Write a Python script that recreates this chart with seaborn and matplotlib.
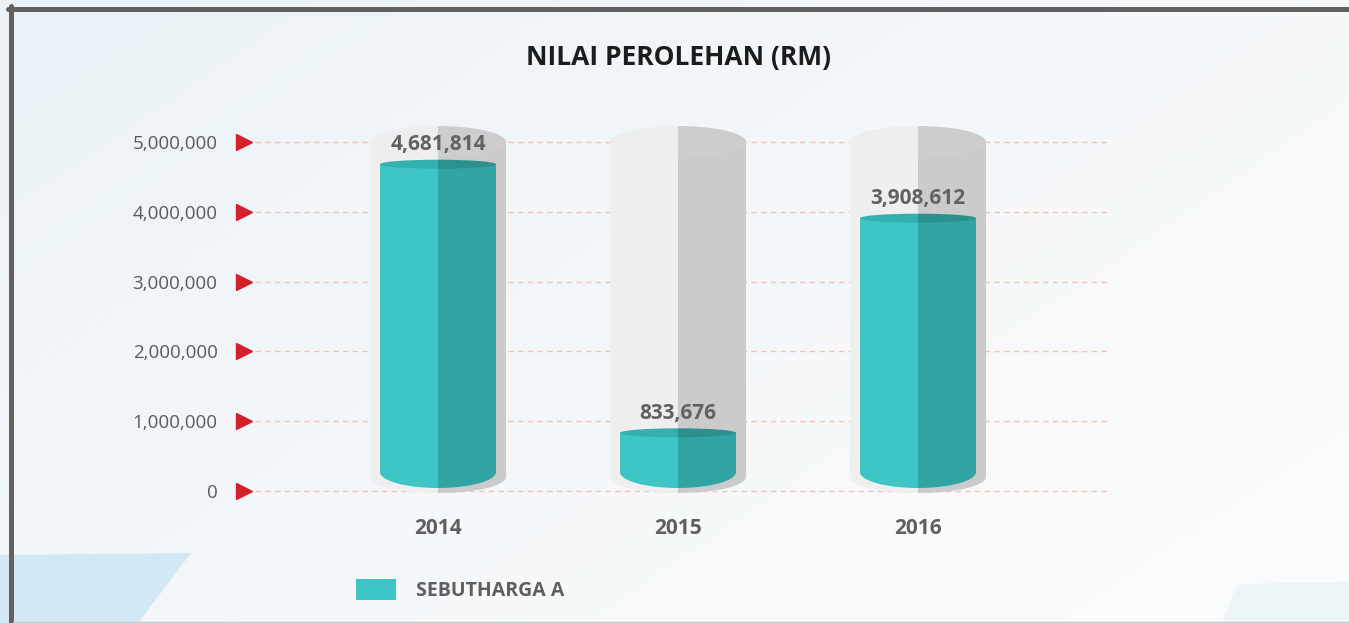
import numpy as np
import matplotlib
matplotlib.use("Agg")
import matplotlib.pyplot as plt
import matplotlib.patches as mpatches
from matplotlib.lines import Line2D
from matplotlib.transforms import blended_transform_factory
import seaborn as sns

# data
years = ["2014", "2015", "2016"]
values = [4681814, 833676, 3908612]
track_max = 5000000
y_ticks = [0, 1000000, 2000000, 3000000, 4000000, 5000000]
series_name = "SEBUTHARGA A"
title = "NILAI PEROLEHAN (RM)"

W, H = 1349, 623
PX_PER_M = 69.8  # pixels per 1,000,000 on the value axis

sns.set_theme(style="white")
plt.rcParams["font.family"] = ["Open Sans", "DejaVu Sans"]

fig = plt.figure(figsize=(W / 100, H / 100), dpi=100)
fig.patch.set_facecolor("#f4f7fa")

# soft background gradient + decorative shapes
bg = fig.add_axes([0, 0, 1, 1], zorder=-10)
gx = np.linspace(0, 1, 200)
gy = np.linspace(0, 1, 100)
GX, GY = np.meshgrid(gx, gy)
grad = 0.6 * GX + 0.4 * GY
bg.imshow(grad, cmap=matplotlib.colors.LinearSegmentedColormap.from_list(
    "bgc", ["#eaf2f7", "#f5f8fa", "#fbfcfd"]), aspect="auto",
    extent=[0, 1, 0, 1], origin="upper")
bg.set_xlim(0, 1)
bg.set_ylim(0, 1)
bg.axis("off")


def fpt(px, py):
    return (px / W, 1 - py / H)


bg.add_patch(mpatches.Polygon([fpt(0, 555), fpt(191, 553), fpt(138, 623), fpt(0, 623)],
                              closed=True, color="#d2e9f5", lw=0))
bg.add_patch(mpatches.Polygon([fpt(1237, 584), fpt(1349, 582), fpt(1349, 623), fpt(1222, 623)],
                              closed=True, color="#edf5f9", lw=0))

# main axes (pixel box 255..1110 x 100..505)
ax = fig.add_axes([255 / W, (H - 505) / H, 855 / W, 405 / H])
ax.set_facecolor("none")


def py(p):
    # pixel height -> value units
    return p * 1e6 / PX_PER_M


# gray tracks and teal bars via seaborn
sns.barplot(x=years, y=[track_max] * len(years), width=136 / 240, color="#efefef", ax=ax)
n_track = len(ax.patches)
sns.barplot(x=years, y=values, width=116 / 240, color="#3ec5c5", ax=ax)
tracks = ax.patches[:n_track]
bars = ax.patches[n_track:]


def halves(patch_list, x0, w, color_l, color_r):
    for p, cx, c in zip(patch_list, (x0, x0 + w / 2), (color_l, color_r)):
        p.set_facecolor(c)
        ax.add_patch(p)
        clip = mpatches.Rectangle((cx, -1e8), w / 2, 2e8, transform=ax.transData)
        p.set_clip_path(clip)


def cylinder(bar, lift, bot_semi, top_semi, body, cap, z):
    x0, w = bar.get_x(), bar.get_width()
    top = bar.get_y() + bar.get_height()
    yb = py(lift)
    bar.set_y(yb)
    bar.set_height(top - yb)
    bar.set_facecolor(body[0])
    bar.set_edgecolor("none")
    bar.set_zorder(z)
    right = mpatches.Rectangle((x0 + w / 2, yb), w / 2, top - yb, color=body[1], lw=0, zorder=z)
    ax.add_patch(right)
    bot = [mpatches.Ellipse((x0 + w / 2, yb), w, 2 * py(bot_semi), lw=0, zorder=z) for _ in range(2)]
    halves(bot, x0, w, body[0], body[1])
    capp = [mpatches.Ellipse((x0 + w / 2, top), w, 2 * py(top_semi), lw=0, zorder=z + 0.1) for _ in range(2)]
    halves(capp, x0, w, cap[0], cap[1])


for t in tracks:
    cylinder(t, 14, 16, 16, ("#efefef", "#cbcbcb"), ("#eeeeee", "#cdcdcd"), 2)
for b in bars:
    cylinder(b, 19, 16, 4.5, ("#3ec5c5", "#31a5a4"), ("#35b0b0", "#2c908e"), 3)

# value labels
for i, v in enumerate(values):
    ax.annotate(f"{v:,}", (i, v), xytext=(0, 14), textcoords="offset points",
                ha="center", va="center", fontsize=15, fontweight="bold",
                color="#626262", zorder=5)

# axes styling
ax.set_xlim(-183 / 240, 672 / 240)
ax.set_ylim(-py(14), track_max + py(42))
ax.set_yticks(y_ticks)
ax.set_yticklabels([f"{t:,}" for t in y_ticks])
ax.grid(axis="y", color="#f6c3b3", linestyle=(0, (4, 3)), lw=1)
ax.grid(axis="x", visible=False)
ax.set_axisbelow(True)
for s in ax.spines.values():
    s.set_visible(False)
ax.tick_params(axis="y", length=0, pad=27, labelsize=13.5, labelcolor="#5a5a5a")
ax.tick_params(axis="x", length=0, pad=9, labelsize=15, labelcolor="#5f5f5f")
for lab in ax.get_xticklabels():
    lab.set_fontweight("bold")
ax.set_xlabel("")
ax.set_ylabel("")

# red triangle markers next to tick labels
trans = blended_transform_factory(ax.transAxes, ax.transData)
ax.plot([-11.5 / 855] * len(y_ticks), y_ticks, linestyle="none", marker=">",
        markersize=12, color="#d4202a", transform=trans, clip_on=False, zorder=6)

# title
fig.text(679 / W, 1 - 57 / H, title, ha="center", va="center", fontsize=19,
         fontweight="bold", color="#1c1c1c")

# legend
handle = mpatches.Patch(facecolor="#3ec5c5", edgecolor="none")
fig.legend([handle], [series_name], loc="center left", bbox_to_anchor=(356 / W, 1 - 590 / H),
           frameon=False, borderpad=0, borderaxespad=0, handlelength=2.06, handleheight=1.29,
           handletextpad=1.03, prop={"weight": "bold", "size": 14}, labelcolor="#5f5f5f")

# frame lines of the panel
fig.add_artist(Line2D([8 / W, 1], [1 - 8.5 / H] * 2, lw=3.6, color="#616161"))
fig.add_artist(Line2D([10.5 / W] * 2, [1 - 6 / H, 0], lw=3.6, color="#616161"))
fig.add_artist(Line2D([13 / W, 1], [1 - 621.5 / H] * 2, lw=1, color="#c9c9c9"))

fig.savefig("out.png", dpi=100, facecolor=fig.get_facecolor())
